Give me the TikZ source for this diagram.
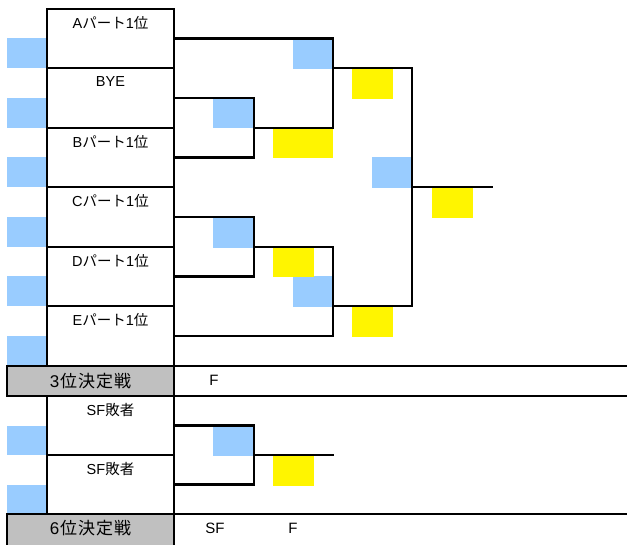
\documentclass[tikz,border=0pt]{standalone}
\usepackage{fontspec}
\setmainfont{Liberation Sans}
\newfontfamily\jp{Noto Sans CJK JP}
\definecolor{sky}{HTML}{99CCFF}
\definecolor{yel}{HTML}{FFF500}
\definecolor{gr}{HTML}{C0C0C0}
\begin{document}
\begin{tikzpicture}[x=1pt,y=-1pt,line width=2.2pt,
  rowbox/.style={draw,minimum width=127pt,inner sep=0pt,outer sep=0pt},
  graybox/.style={draw,fill=gr,minimum width=167pt,minimum height=30pt,inner sep=0pt,outer sep=0pt},
  lbl/.style={inner sep=0pt,font=\fontsize{14.5}{16}\selectfont},
  biglbl/.style={inner sep=0pt,font=\fontsize{17}{19}\selectfont},
  smlbl/.style={inner sep=0pt,font=\fontsize{15}{17}\selectfont},
  bluesq/.style={fill=sky},
  yelsq/.style={fill=yel},
  bracket/.style={draw}]
\useasboundingbox (0,0) rectangle (627,544);
% colour cells
\foreach \t/\b in {38/68,98/128,157/187,217/247,276/306,336/366,426/455,485/514}
  \fill[bluesq] (7,\t) rectangle (46,\b);
\fill[bluesq] (293,39) rectangle (333,69);
\fill[bluesq] (213,98) rectangle (254,128);
\fill[bluesq] (372,157) rectangle (412,188);
\fill[bluesq] (213,217) rectangle (254,248);
\fill[bluesq] (293,276) rectangle (333,307);
\fill[bluesq] (213,426) rectangle (254,456);
\fill[yelsq] (273,128) rectangle (333,158);
\fill[yelsq] (352,68) rectangle (393,99);
\fill[yelsq] (432,187) rectangle (473,218);
\fill[yelsq] (273,247) rectangle (314,277);
\fill[yelsq] (352,306) rectangle (393,337);
\fill[yelsq] (273,455) rectangle (314,486);
% entry rows
\node[rowbox,minimum height=59pt] (r1) at (110.5,38.5) {};
\node[rowbox,minimum height=60pt] (r2) at (110.5,98) {};
\node[rowbox,minimum height=59pt] (r3) at (110.5,157.5) {};
\node[rowbox,minimum height=60pt] (r4) at (110.5,217) {};
\node[rowbox,minimum height=59pt] (r5) at (110.5,276.5) {};
\node[rowbox,minimum height=60pt] (r6) at (110.5,336) {};
\node[rowbox,minimum height=59pt] (s1) at (110.5,425.5) {};
\node[rowbox,minimum height=59pt] (s2) at (110.5,484.5) {};
\node[lbl] (t1) at ([yshift=-14pt]r1.north) {A{\jp パート}1{\jp 位}};
\node[lbl] (t2) at ([yshift=-14pt]r2.north) {BYE};
\node[lbl] (t3) at ([yshift=-14pt]r3.north) {B{\jp パート}1{\jp 位}};
\node[lbl] (t4) at ([yshift=-14pt]r4.north) {C{\jp パート}1{\jp 位}};
\node[lbl] (t5) at ([yshift=-14pt]r5.north) {D{\jp パート}1{\jp 位}};
\node[lbl] (t6) at ([yshift=-14pt]r6.north) {E{\jp パート}1{\jp 位}};
\node[lbl] (u1) at ([yshift=-14pt]s1.north) {SF{\jp 敗者}};
\node[lbl] (u2) at ([yshift=-14pt]s2.north) {SF{\jp 敗者}};
% gray header rows
\node[graybox] (g1) at (90.5,381) {};
\node[graybox,minimum height=34pt] (g2) at (90.5,531) {};
\node[biglbl] (h1) at (g1.center) {3\hspace{1pt}{\jp 位\hspace{1pt}決\hspace{1pt}定\hspace{1pt}戦}};
\node[biglbl] (h2) at (90.5,528) {6\hspace{1pt}{\jp 位\hspace{1pt}決\hspace{1pt}定\hspace{1pt}戦}};
\coordinate (e1) at (627,366);
\coordinate (e2) at (627,396);
\coordinate (e3) at (627,514);
\draw (g1.north west) -- (e1);
\draw (g1.south west) -- (e2);
\draw (g2.north west) -- (e3);
\node[smlbl] (f1) at (214,380) {F};
\node[smlbl] (f2) at (215,528) {SF};
\node[smlbl] (f3) at (293,528) {F};
% bracket
\coordinate (m1) at (254,128);
\coordinate (m2) at (254,247);
\coordinate (q1) at (333,68);
\coordinate (q2) at (333,306);
\coordinate (fin) at (412,187);
\coordinate (out) at (493,187);
\coordinate (m3) at (254,455);
\coordinate (out3) at (334,455);
\draw[bracket] (r1.east) -| (q1) |- (m1);
\draw[bracket] (r2.east) -| (m1) |- (r3.east);
\draw[bracket] (r4.east) -| (m2) |- (r5.east);
\draw[bracket] (m2) -| (q2) |- (r6.east);
\draw[bracket] (q1) -| (fin) |- (q2);
\draw[bracket] (fin) -- (out);
\draw[bracket] (s1.east) -| (m3) |- (s2.east);
\draw[bracket] (m3) -- (out3);
\end{tikzpicture}
\end{document}
